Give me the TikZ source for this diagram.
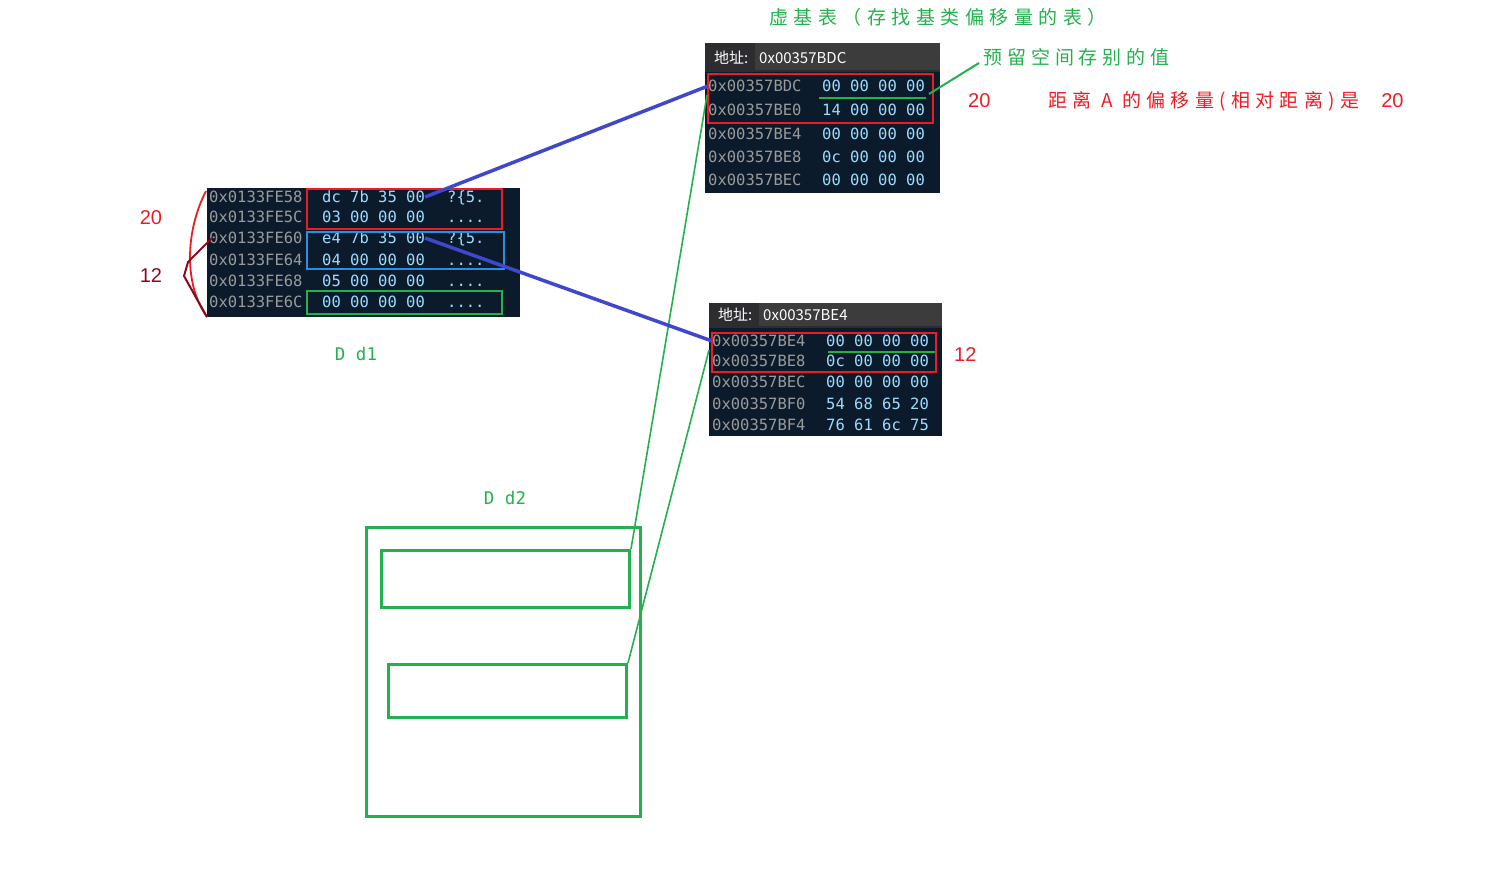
\documentclass[tikz,border=0pt]{standalone}
\usepackage{fontspec}
\setmainfont{Liberation Sans}
\newfontfamily\mono{DejaVu Sans Mono}
\newfontfamily\cjk{Noto Sans CJK SC}
\newfontfamily\cjktitle[LetterSpace=29]{Noto Sans CJK SC}
\newfontfamily\cjkresv[LetterSpace=26]{Noto Sans CJK SC}
\newfontfamily\cjkred[LetterSpace=28]{Noto Sans CJK SC}
\newfontfamily\plainsans{Liberation Sans}
\newcommand\fdots{.\kern0pt.\kern0pt.\kern0pt.}
\newcommand\qbr{?\{5.}
\definecolor{navy}{HTML}{0B1B2B}
\definecolor{hdr}{HTML}{3C3C3C}
\definecolor{hdrl}{HTML}{2D2D30}
\definecolor{addr}{HTML}{9A9A9A}
\definecolor{hexc}{HTML}{9CDCFE}
\definecolor{gr}{HTML}{22B14C}
\definecolor{rd}{HTML}{ED1C24}
\definecolor{drd}{HTML}{8B0A1A}
\definecolor{bl}{HTML}{3F48CC}
\definecolor{bx}{HTML}{2A8FE0}
\tikzset{
  addrtxt/.style={anchor=west,inner sep=0pt,text height=11.3pt,text depth=0pt,text=addr,font=\mono\fontsize{15.5}{16}\selectfont},
  hextxt/.style={anchor=west,inner sep=0pt,text height=11.3pt,text depth=0pt,text=hexc,font=\mono\fontsize{15.5}{16}\selectfont},
  hdrtxt/.style={anchor=west,inner sep=0pt,text=white,font=\cjk\fontsize{15}{16}\selectfont},
  redbox/.style={draw=rd,line width=2.5pt},
  gline/.style={draw=gr,line width=2pt},
  thingreen/.style={draw=gr,line width=1.6pt},
  blueline/.style={draw=bl,line width=3.5pt},
  gbox/.style={draw=gr,line width=3pt},
}
\begin{document}
\begin{tikzpicture}[x=1pt,y=-1pt]
\useasboundingbox (0,0) rectangle (1487,892);
% ---------- window 1 (d1)
\fill[navy] (207,188) rectangle (520,317);
\foreach \y/\a/\h/\s [count=\i] in {197/0x0133FE58/dc 7b 35 00/\qbr,217/0x0133FE5C/03 00 00 00/\fdots,238/0x0133FE60/e4 7b 35 00/\qbr,260/0x0133FE64/04 00 00 00/\fdots,281/0x0133FE68/05 00 00 00/\fdots,302/0x0133FE6C/00 00 00 00/\fdots}{
  \node[addrtxt] (wa\i) at (209,\y) {\a};
  \node[hextxt] (wh\i) at (322,\y) {\h};
  \node[hextxt] (ws\i) at (447,\y) {\s};
}
\draw[redbox] (307,189) rectangle (502,229);
\draw[draw=bx,line width=2.5pt] (307,232) rectangle (504,269);
\draw[draw=gr,line width=2.5pt] (307,291) rectangle (502,314);
\node[text=rd,font=\fontsize{20}{22}\selectfont] (l20) at (151,218) {20};
\node[text=drd,font=\fontsize{20}{22}\selectfont] (l12) at (151,276) {12};
\coordinate (ctop) at (206,191);
\coordinate (cbot) at (207,317);
\draw[rd,line width=1.8pt] (ctop) .. controls (185,232) and (184,285) .. (cbot);
\coordinate (dtop) at (212,238);
\draw[drd,line width=2pt] (dtop) -- (188,262) -- (184,276) -- (cbot);
\node[text=gr,font=\mono\fontsize{17.5}{18}\selectfont] (dd1) at (356,354) {D\hspace{0.6em}d1};
% ---------- window 2
\fill[navy] (705,72) rectangle (940,193);
\fill[hdrl] (705,43) rectangle (940,72);
\fill[hdr] (755,43) rectangle (940,70);
\node[hdrtxt] (h2a) at (714,58) {地址:};
\node[hdrtxt] (h2b) at (759,58) {0x00357BDC};
\foreach \y/\a/\h [count=\i] in {86/0x00357BDC/00 00 00 00,110/0x00357BE0/14 00 00 00,134/0x00357BE4/00 00 00 00,157/0x00357BE8/0c 00 00 00,180/0x00357BEC/00 00 00 00}{
  \node[addrtxt] (va\i) at (708,\y) {\a};
  \node[hextxt] (vh\i) at (822,\y) {\h};
}
\draw[redbox] (708,74) rectangle (933,123);
\draw[gline] (819,98) -- (926,98);
% ---------- window 3
\fill[navy] (709,328) rectangle (942,436);
\fill[hdrl] (709,303) rectangle (942,328);
\fill[hdr] (759,303) rectangle (942,326);
\node[hdrtxt] (h3a) at (718,315) {地址:};
\node[hdrtxt] (h3b) at (763,315) {0x00357BE4};
\foreach \y/\a/\h [count=\i] in {341/0x00357BE4/00 00 00 00,361/0x00357BE8/0c 00 00 00,382/0x00357BEC/00 00 00 00,404/0x00357BF0/54 68 65 20,425/0x00357BF4/76 61 6c 75}{
  \node[addrtxt] (ua\i) at (712,\y) {\a};
  \node[hextxt] (uh\i) at (826,\y) {\h};
}
\draw[redbox] (712,333) rectangle (936,372);
\draw[gline] (828,352) -- (935,352);
% ---------- labels
\node[text=gr,font=\cjktitle\fontsize{19}{20}\selectfont,anchor=west,inner sep=0pt] (title) at (769,17) {虚基表（存找基类偏移量的表）};
\node[text=gr,font=\cjkresv\fontsize{19}{20}\selectfont,anchor=west,inner sep=0pt] (resv) at (983,57) {预留空间存别的值};
\coordinate (rp) at (979,63);
\coordinate (rs) at (929,94);
\draw[gline] (rs) -- (rp);
\node[text=rd,font=\fontsize{20}{22}\selectfont,anchor=west,inner sep=0pt] (r20) at (968,101) {20};
\node[text=rd,font=\cjkred\fontsize{19}{20}\selectfont,anchor=west,inner sep=0pt] (rtxt) at (1048,101) {距离\ A\ 的偏移量(相对距离)是\hspace{22pt}{\plainsans\fontsize{20}{22}\selectfont 20}};
\node[text=rd,font=\fontsize{20}{22}\selectfont,anchor=west,inner sep=0pt] (r12) at (954,355) {12};
% ---------- d2
\node[text=gr,font=\mono\fontsize{17.5}{18}\selectfont] (dd2) at (505,498) {D\hspace{0.6em}d2};
\draw[gbox] (366,527) rectangle (640,816);
\node[gbox,minimum width=248pt,minimum height=57pt,inner sep=0pt,anchor=north west] (inA) at (380,549) {};
\node[gbox,minimum width=238pt,minimum height=53pt,inner sep=0pt,anchor=north west] (inB) at (387,663) {};
% ---------- connectors
\coordinate (t1) at (707,95);
\coordinate (t2) at (709,350);
\draw[thingreen] (inA.north east) -- (t1);
\draw[thingreen] (inB.north east) -- (t2);
\draw[blueline] (wh1.east) -- (va1.west);
\draw[blueline] (wh3.east) -- (ua1.west);
\end{tikzpicture}
\end{document}
